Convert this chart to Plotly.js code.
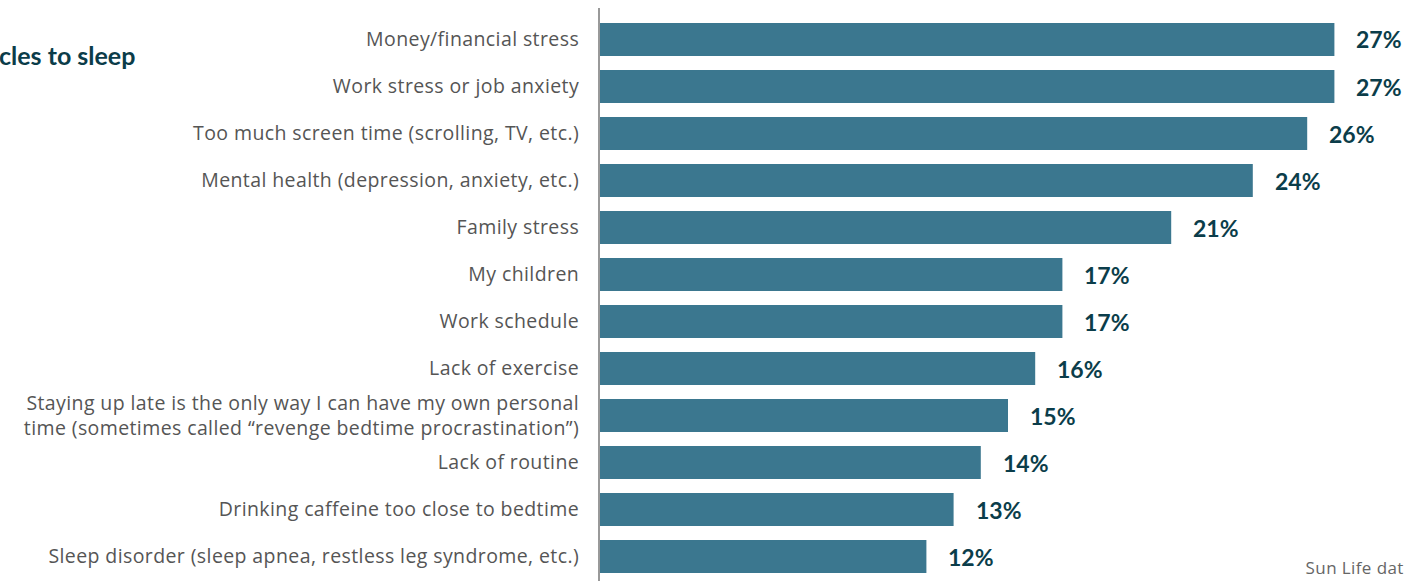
<!DOCTYPE html>
<html>
<head>
<meta charset="utf-8">
<script src="https://cdn.plot.ly/plotly-3.0.1.min.js"></script>
<style>
html,body{margin:0;padding:0;background:#fff;overflow:hidden;}
#chart{width:1405px;height:581px;}
#chart .ytick text{letter-spacing:0.4px;}
#chart .annotation[data-index="13"] text{letter-spacing:0.4px;}
</style>
</head>
<body>
<div id="chart"></div>
<script>
const categories = [
  "Money/financial stress",
  "Work stress or job anxiety",
  "Too much screen time (scrolling, TV, etc.)",
  "Mental health (depression, anxiety, etc.)",
  "Family stress",
  "My children",
  "Work schedule",
  "Lack of exercise",
  "Staying up late is the only way I can have my own personal<br>time (sometimes called \u201crevenge bedtime procrastination\u201d)",
  "Lack of routine",
  "Drinking caffeine too close to bedtime",
  "Sleep disorder (sleep apnea, restless leg syndrome, etc.)"
];
const values = [27, 27, 26, 24, 21, 17, 17, 16, 15, 14, 13, 12];
const valueLabels = values.map(v => v + "%");
const titleText = "cles to sleep";
const sourceText = "Sun Life dat";

const LABEL_FONT = "'Open Sans', sans-serif";
const BOLD_FONT = "Lato, 'Open Sans', sans-serif";

const trace = {
  type: "bar",
  orientation: "h",
  y: categories,
  x: values,
  marker: {color: "#3b778f"},
  hoverinfo: "skip"
};

const annotations = values.map((v, i) => ({
  x: v, y: categories[i], xref: "x", yref: "y",
  text: valueLabels[i], showarrow: false,
  xanchor: "left", yanchor: "middle", xshift: 20,
  font: {family: BOLD_FONT, size: 23, color: "#0b3d4a", weight: 700}
}));

const L = 600, W = 1405 - L;
annotations.push({
  xref: "paper", yref: "paper",
  x: (-3 - L) / W, y: 1 - (55 - 8) / 573,
  xanchor: "left", yanchor: "middle",
  text: "<b>" + titleText + "</b>", showarrow: false,
  font: {family: BOLD_FONT, size: 25, color: "#0b3c49"}
});
annotations.push({
  xref: "paper", yref: "paper",
  x: (1306 - L) / W, y: 1 - (567 - 8) / 573,
  xanchor: "left", yanchor: "middle",
  text: sourceText, showarrow: false,
  font: {family: LABEL_FONT, size: 17, color: "#666666"}
});

const layout = {
  width: 1405, height: 581,
  margin: {l: L, r: 0, t: 8, b: 0, pad: 0},
  paper_bgcolor: "#ffffff",
  plot_bgcolor: "#ffffff",
  showlegend: false,
  bargap: 0.298,
  xaxis: {
    range: [0, W / 27.2],
    showgrid: false, zeroline: false, showticklabels: false,
    showline: false, ticks: ""
  },
  yaxis: {
    type: "category",
    range: [11.52, -0.67],
    showgrid: false, zeroline: false,
    showline: true, linecolor: "#999999", linewidth: 2,
    ticks: "outside", ticklen: 15, tickcolor: "rgba(0,0,0,0)",
    tickfont: {family: LABEL_FONT, size: 19.5, color: "#555555"}
  },
  annotations: annotations
};

Plotly.newPlot("chart", [trace], layout, {displayModeBar: false, staticPlot: true});
</script>
</body>
</html>
